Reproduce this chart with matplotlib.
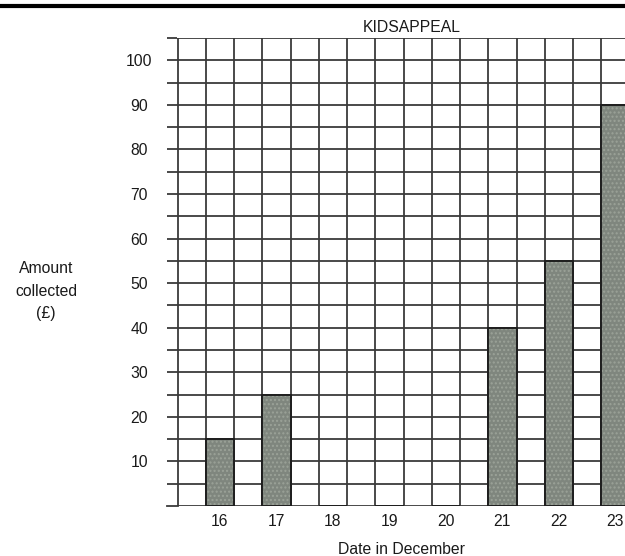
import matplotlib
matplotlib.use("Agg")
import matplotlib.pyplot as plt
from matplotlib.lines import Line2D
import numpy as np

plt.rcParams['font.family'] = ['Liberation Sans', 'DejaVu Sans']

dates = [16, 17, 18, 19, 20, 21, 22, 23]
amounts = [15, 25, 0, 0, 0, 40, 55, 90]
ytick_vals = [10, 20, 30, 40, 50, 60, 70, 80, 90, 100]
title = "KIDSAPPEAL"
xlabel = "Date in December"
ylabel = "Amount\ncollected\n(£)"

W, H = 625, 556
fig = plt.figure(figsize=(W / 100, H / 100), dpi=100)
left_px, right_px, bottom_px, top_px = 177.5, 625, 506, 38
ax = fig.add_axes([left_px / W, 1 - bottom_px / H,
                   (right_px - left_px) / W, (bottom_px - top_px) / H])

grid_c = '#3a3a3a'
txt_c = '#1a1a1a'
fs = 11.3
ax.set_xlim(15.25, 23.17)
ax.set_ylim(0, 105)

# grid
for x in np.arange(15.25, 23.3, 0.5):
    ax.axvline(x, color=grid_c, lw=1.3, zorder=1)
for y in np.arange(0, 105.1, 5):
    ax.axhline(y, color=grid_c, lw=1.3, zorder=1)

# textured fill, then outline
ax.bar(dates, amounts, width=0.5, color='#7f867e', edgecolor='#9ba298',
       linewidth=0, hatch='....', zorder=3)
ax.bar(dates, amounts, width=0.5, fill=False, edgecolor='#1e1e1e',
       linewidth=1.4, zorder=4)

for s in ax.spines.values():
    s.set_visible(False)

ax.set_xticks(dates)
ax.set_xticklabels([str(d) for d in dates], fontsize=fs, color=txt_c)
ax.tick_params(axis='x', length=0, pad=6)

ax.set_yticks(ytick_vals)
ax.set_yticklabels([str(v) for v in ytick_vals], fontsize=fs, color=txt_c)
ax.set_yticks(np.arange(5, 106, 10), minor=True)
ax.tick_params(axis='y', which='both', length=7.5, width=1.3, color=grid_c,
               direction='out', pad=20)
ax.tick_params(axis='y', which='minor', labelleft=False)
for lbl in ax.get_yticklabels():
    lbl.set_horizontalalignment('center')
ax.plot([15.25 - 0.18, 15.25], [0, 0], color=grid_c, lw=1.3, clip_on=False)

ax.set_xlabel(xlabel, fontsize=fs, color=txt_c, labelpad=9)

fig.text(412 / W, 1 - 28 / H, title, fontsize=fs, color=txt_c,
         ha='center', va='center')
fig.text(46 / W, 1 - 291 / H, ylabel, fontsize=fs, color=txt_c,
         ha='center', va='center', linespacing=1.6)

fig.add_artist(Line2D([0, 1], [1 - 6 / H, 1 - 6 / H], color='black', lw=3,
                      transform=fig.transFigure))

fig.savefig("out.png", dpi=100)
